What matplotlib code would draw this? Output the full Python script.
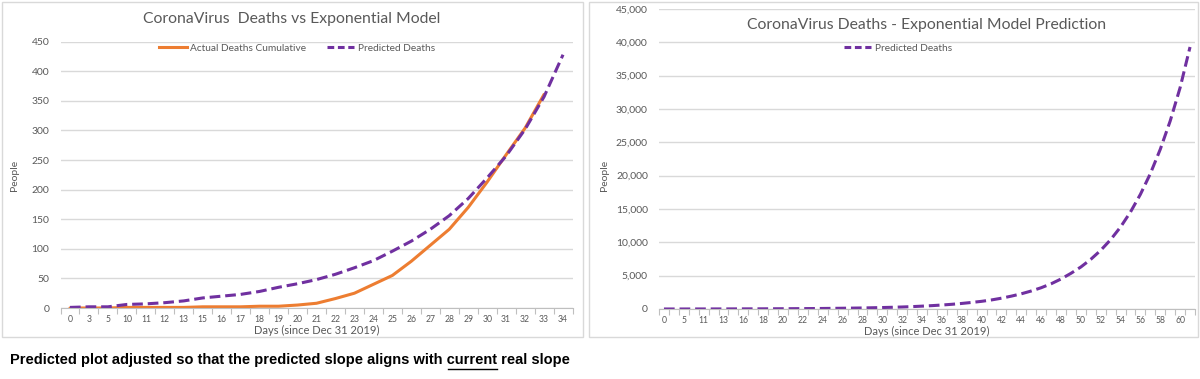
import matplotlib
matplotlib.use("Agg")
import matplotlib.pyplot as plt
from matplotlib.patches import Rectangle
from matplotlib.lines import Line2D

# left chart: categorical days
days_left = [0, 3, 5, 10, 11, 12, 13, 15, 16, 17, 18, 19, 20, 21, 22, 23,
             24, 25, 26, 27, 28, 29, 30, 31, 32, 33, 34]
actual_deaths = [0, 0, 0, 1, 1, 1, 1, 2, 2, 2, 3, 3, 5, 8, 16, 25,
                 40, 55, 79, 106, 133, 170, 213, 259, 304, 361]
predicted_left = [1, 2, 2, 6, 7, 9, 12, 17, 20, 23, 28, 35, 41, 48, 57, 68,
                  80, 96, 113, 133, 156, 185, 220, 257, 302, 357, 428]

# right chart: predicted out to day 61
days_right = [0, 3, 5, 10, 11, 12, 13, 15] + list(range(16, 62))
predicted_right = [1, 2, 2, 6, 7, 9, 12, 17, 20, 23, 28, 35, 41, 48, 57, 68,
                   80, 96, 113, 133, 156, 185, 220, 257, 302, 357, 428,
                   505, 597, 705, 833, 985, 1150, 1360, 1620, 1930, 2280,
                   2700, 3190, 3780, 4500, 5350, 6300, 7450, 8800, 10400,
                   12300, 14550, 17200, 20300, 23950, 28200, 33200, 39300]

W, H = 1200, 379
ORANGE = "#ED7D31"
PURPLE = "#7030A0"
GRID = "#D9D9D9"
TXT = "#595959"
FONT = "Lato"

fig = plt.figure(figsize=(12, 3.79), dpi=100)
fig.patch.set_facecolor("white")


def px_axes(x0, x1, ytop, ybot):
    return fig.add_axes([x0 / W, 1 - ybot / H, (x1 - x0) / W, (ybot - ytop) / H])


# panel borders
for (x0, y0, x1, y1) in [(2, 2, 583, 337), (589, 2, 1198, 337)]:
    fig.patches.append(Rectangle((x0 / W, 1 - y1 / H), (x1 - x0) / W, (y1 - y0) / H,
                                 transform=fig.transFigure, fill=False,
                                 edgecolor="#D9D9D9", linewidth=1.0))


def style_axes(ax, ncat, ymax, ystep, labels, label_every, yfmt):
    ax.set_xlim(-0.5, ncat - 0.5)
    ax.set_ylim(0, ymax)
    ax.set_yticks(range(0, ymax + 1, ystep))
    ax.set_yticklabels([yfmt(v) for v in range(0, ymax + 1, ystep)],
                       fontsize=7.5, color=TXT, family=FONT)
    ax.grid(axis="y", color=GRID, linewidth=1.0)
    ax.set_axisbelow(True)
    for s in ["top", "right", "left"]:
        ax.spines[s].set_visible(False)
    ax.spines["bottom"].set_color("#BFBFBF")
    ax.tick_params(axis="y", length=0, pad=8)
    pos = list(range(0, ncat, label_every))
    ax.set_xticks(pos)
    ax.set_xticklabels([labels[i] for i in pos], fontsize=6.2, color=TXT, family=FONT)
    ax.tick_params(axis="x", length=0, pad=5)
    ax.set_xticks([i - 0.5 for i in range(ncat + 1)], minor=True)
    ax.tick_params(axis="x", which="minor", length=4, color="#BFBFBF", width=0.8)
    ax.set_xlabel("Days (since Dec 31 2019)", fontsize=8, color=TXT, family=FONT, labelpad=1)


# ---- left panel
ax1 = px_axes(60.5, 572.5, 41.7, 308)
style_axes(ax1, len(days_left), 450, 50, days_left, 1, lambda v: str(v))
x_act = list(range(len(actual_deaths)))
x_pl = list(range(len(predicted_left)))
ax1.plot(x_act, actual_deaths, color=ORANGE, linewidth=2.2, solid_capstyle="round")
ax1.plot(x_pl, predicted_left, color=PURPLE, linewidth=2.2, dashes=(3.5, 1.6))
fig.text(292 / W, 1 - 19 / H, "CoronaVirus  Deaths vs Exponential Model",
         ha="center", va="center", fontsize=11.3, color=TXT, family=FONT)
fig.text(15 / W, 1 - 175 / H, "People", rotation=90, ha="center", va="center",
         fontsize=7.5, color=TXT, family=FONT)
h1 = [Line2D([], [], color=ORANGE, linewidth=2.2),
      Line2D([], [], color=PURPLE, linewidth=2.2, dashes=(2.2, 1.2))]
fig.legend(h1, ["Actual Deaths Cumulative", "Predicted Deaths"], ncol=2,
           loc="center", bbox_to_anchor=(297 / W, 1 - 48 / H), frameon=False,
           prop={"family": FONT, "size": 7.3}, labelcolor=TXT,
           handlelength=2.7, columnspacing=2.0, handletextpad=0.35)

# ---- right panel
ax2 = px_axes(659, 1195, 9, 309)
style_axes(ax2, len(days_right), 45000, 5000, days_right, 2, lambda v: f"{v:,}")
ax2.plot(list(range(len(predicted_right))), predicted_right, color=PURPLE,
         linewidth=2.2, dashes=(3.5, 1.6))
fig.text(927 / W, 1 - 25 / H, "CoronaVirus Deaths - Exponential Model Prediction",
         ha="center", va="center", fontsize=11.3, color=TXT, family=FONT)
fig.text(605 / W, 1 - 175 / H, "People", rotation=90, ha="center", va="center",
         fontsize=7.5, color=TXT, family=FONT)
h2 = [Line2D([], [], color=PURPLE, linewidth=2.2, dashes=(2.2, 1.2))]
fig.legend(h2, ["Predicted Deaths"], loc="center",
           bbox_to_anchor=(898 / W, 1 - 48 / H), frameon=False,
           prop={"family": FONT, "size": 7.3}, labelcolor=TXT,
           handlelength=2.7, handletextpad=0.35)

# ---- caption with underlined word
prefix = "Predicted plot adjusted so that the predicted slope aligns with "
word = "current"
caption = prefix + word + " real slope"
cap_kw = dict(ha="left", va="center", fontsize=10.5, fontweight="bold",
              family="Liberation Sans", color="black")
x0, y0 = 10 / W, 1 - 360 / H
fig.text(x0, y0, caption, **cap_kw)
fig.canvas.draw()
renderer = fig.canvas.get_renderer()
t_a = fig.text(x0, y0, prefix, alpha=0, **cap_kw)
t_b = fig.text(x0, y0, prefix + word, alpha=0, **cap_kw)
bb_a = t_a.get_window_extent(renderer)
bb_b = t_b.get_window_extent(renderer)
u_start = bb_a.x1 + 1
u_end = bb_b.x1
u_y = bb_b.y0 - 1.5
fig.add_artist(Line2D([u_start / W, u_end / W], [u_y / H, u_y / H],
                      transform=fig.transFigure, color="black", linewidth=1.0))

fig.savefig("out.png", dpi=100, facecolor="white")
